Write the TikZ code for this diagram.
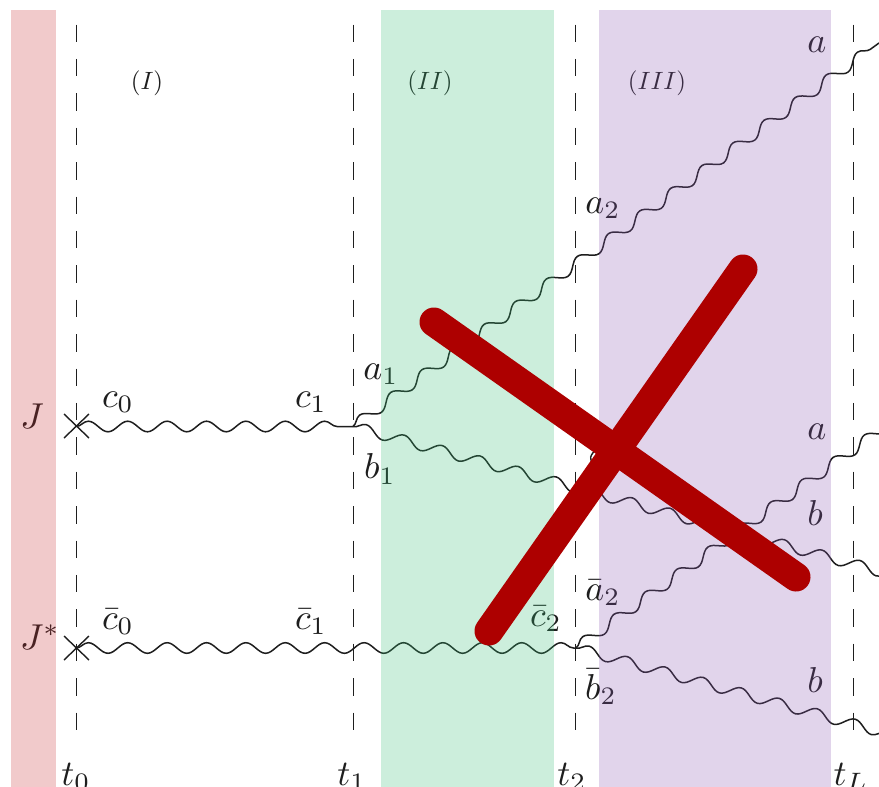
\documentclass[tikz,border=0pt]{standalone}
\usetikzlibrary{decorations.pathmorphing}
\definecolor{redb}{RGB}{203,47,51}
\definecolor{greenb}{RGB}{55,191,119}
\definecolor{purpb}{RGB}{139,87,179}
\definecolor{crossred}{RGB}{173,0,0}
\definecolor{ink}{RGB}{30,30,30}
\tikzset{
  wavy/.style={draw=ink,line width=1.5pt,decorate,decoration={snake,segment length=39.4pt,amplitude=5.3pt,post length=0pt}},
  wavyup/.style={wavy,decoration={snake,segment length=38.5pt,amplitude=5.3pt,post length=0pt}},
  timeline/.style={draw=ink,line width=1pt,dash pattern=on 17.4pt off 17pt},
  xmark/.style={draw=ink,line width=1.4pt},
  band/.style={opacity=.25},
  veto/.style={draw=crossred,line width=29pt,line cap=round},
  lab/.style={text=ink,inner sep=0pt,scale=3.6},
  reg/.style={text=ink,inner sep=0pt,scale=2.5}
}
\begin{document}
\begin{tikzpicture}[x=1pt,y=-1pt]
\useasboundingbox (0,0) rectangle (879,787);
\clip (0,0) rectangle (879,787);
\fill[white] (0,0) rectangle (879,787);
% vertices
\coordinate (v0) at (76,426.5);
\coordinate (v1) at (353,426.5);
\coordinate (aend) at (879,43);
\coordinate (bend) at (900,577);
\coordinate (w0) at (76,648);
\coordinate (w2) at (576,648);
\coordinate (a2end) at (900,416);
\coordinate (b2end) at (900,737);
\foreach \n/\x in {t0/76,t1/353,t2/575.5,tL/853}{
  \coordinate (\n top) at (\x,24.5);
  \coordinate (\n bot) at (\x,732);
  \draw[timeline] (\n top) -- (\n bot);
}
\draw[wavy] (v0) -- (v1);
\draw[wavyup] (v1) -- (aend);
\draw[wavy] (v1) -- (bend);
\draw[wavy] (w0) -- (w2);
\draw[wavyup] (w2) -- (a2end);
\draw[wavy] (w2) -- (b2end);
\coordinate (x1a) at (64,414); \coordinate (x1b) at (89,438);
\coordinate (x1c) at (64,438); \coordinate (x1d) at (89,414);
\draw[xmark] (x1a) -- (x1b); \draw[xmark] (x1c) -- (x1d);
\coordinate (x2a) at (64,636); \coordinate (x2b) at (89,660);
\coordinate (x2c) at (64,660); \coordinate (x2d) at (89,636);
\draw[xmark] (x2a) -- (x2b); \draw[xmark] (x2c) -- (x2d);
% sliver of a mark that the cross covers
\coordinate (s1) at (593.5,452); \coordinate (s2) at (592,463); \coordinate (sc) at (590,457);
\draw[ink,line width=1.4pt] (s1) .. controls (sc) .. (s2);
% labels
\node[lab] (lJ) at (32,416) {$J$};
\node[lab] (lJs) at (40,637) {$J^*$};
\node[lab] (lc0) at (118,402) {$c_0$};
\node[lab] (lc1) at (311,402) {$c_1$};
\node[lab] (lcb0) at (118,621.5) {$\bar c_0$};
\node[lab] (lcb1) at (311,621.5) {$\bar c_1$};
\node[lab] (la1) at (381,374) {$a_1$};
\node[lab] (lb1) at (380,469) {$b_1$};
\node[lab] (la2) at (603,208) {$a_2$};
\node[lab] (lab2) at (603,593) {$\bar a_2$};
\node[lab] (lcb2) at (546,619) {$\bar c_2$};
\node[lab] (lbb2) at (601,687) {$\bar b_2$};
\node[lab] (la) at (817,45) {$a$};
\node[lab] (la3) at (817,432) {$a$};
\node[lab] (lb) at (815,513) {$b$};
\node[lab] (lb3) at (815,680) {$b$};
\node[reg] (r1) at (147,83) {$(I)$};
\node[reg] (r2) at (430,83) {$(II)$};
\node[reg] (r3) at (657,83) {$(III)$};
\node[lab] (t0) at (76,777) {$t_0$};
\node[lab] (t1) at (352,777) {$t_1$};
\node[lab] (t2) at (572,777) {$t_2$};
\node[lab] (tL) at (851,777) {$t_L$};
% bands
\fill[band,redb] (11,10) rectangle (56,787);
\fill[band,greenb] (381,10) rectangle (554,787);
\fill[band,purpb] (599,10) rectangle (831,787);
% cross
\coordinate (c1) at (434,322); \coordinate (c2) at (796,577);
\coordinate (c3) at (743,269); \coordinate (c4) at (489,631);
\draw[veto] (c1) -- (c2);
\draw[veto] (c3) -- (c4);
\end{tikzpicture}
\end{document}
